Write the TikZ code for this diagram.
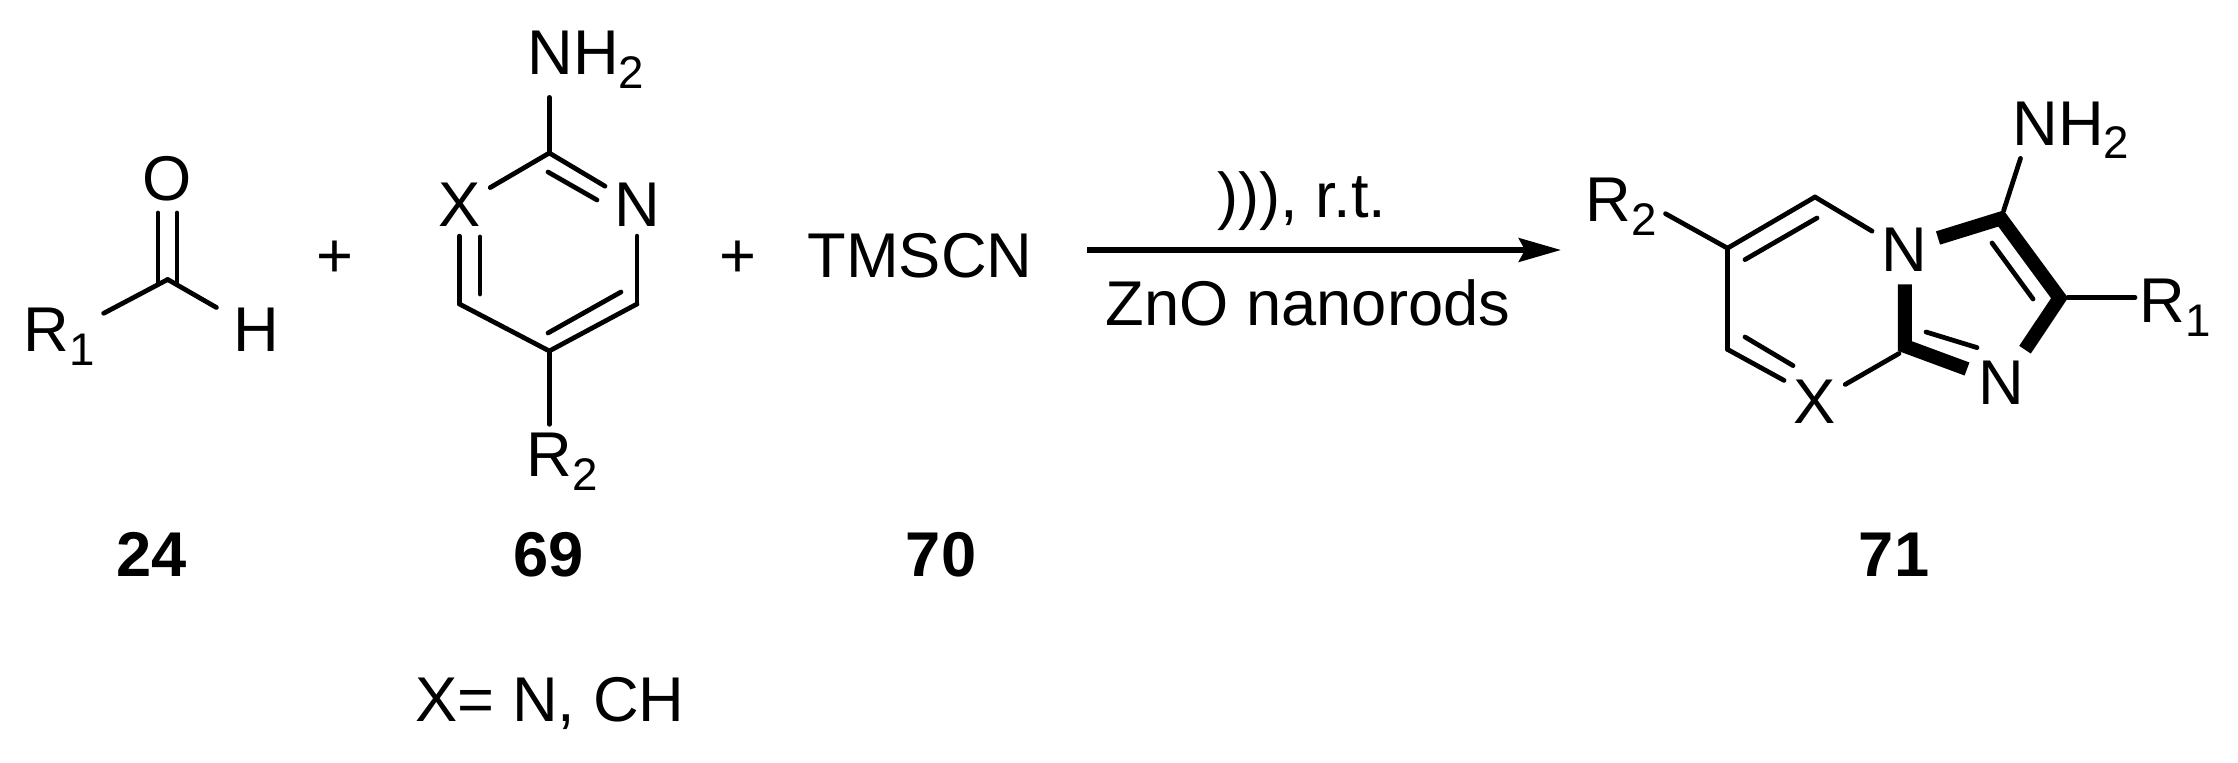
\documentclass[tikz,border=0pt]{standalone}
\usepackage{fontspec}
\setmainfont{Liberation Sans}
\usetikzlibrary{arrows.meta}
\newcommand{\pedice}[1]{\raisebox{-0.21em}{\fontsize{26}{26}\selectfont #1}}
\tikzset{
  atomo/.style={anchor=base,inner sep=5pt,font=\fontsize{36}{40}\selectfont},
  numero/.style={anchor=base,inner sep=0pt,font=\fontsize{36}{40}\selectfont\bfseries},
  legame/.style={line width=2.7pt,line cap=round,line join=round},
  grassetto/.style={line width=7.9pt,line join=miter},
  freccia/.style={line width=3.1pt,-{Stealth[length=24pt,width=13.5pt,inset=3.5pt]}}
}
\begin{document}
\begin{tikzpicture}[x=0.02cm,y=-0.02cm]
  \useasboundingbox (0,0) rectangle (2238,763);

  % Aldeide
  \node[atomo] (oAld) at (167,201) {O};
  \node[atomo] (hAld) at (256,352) {H};
  \node[atomo] (rUno) at (59,352) {R\pedice{1}};
  \coordinate (cAld) at (167.7,279.5);
  \coordinate (oSx) at (158,213);
  \coordinate (oDx) at (177,213);
  \coordinate (cSx) at (158,282);
  \coordinate (cDx) at (177,282);
  \draw[legame] (oSx) -- (cSx);
  \draw[legame] (oDx) -- (cDx);
  \draw[legame] (cAld) -- (rUno);
  \draw[legame,shorten >=5pt] (cAld) -- (hAld);
  \node[numero] (nVentiquattro) at (152,576) {24};

  % Piu
  \node[atomo] (piuUno) at (335,278) {+};
  \node[atomo] (piuDue) at (738,278) {+};

  % Amminopirimidina
  \node[atomo] (nhDue) at (586,75) {NH\pedice{2}};
  \node[atomo] (xPir) at (460,227) {X};
  \node[atomo] (nPir) at (637,227) {N};
  \node[atomo] (rDue) at (562,477) {R\pedice{2}};
  \coordinate (cDue) at (549.3,153);
  \coordinate (cQuattro) at (459.4,304);
  \coordinate (cCinque) at (549.3,351);
  \coordinate (cSei) at (637,304);
  \coordinate (aIn) at (548,172);
  \coordinate (bIn) at (597,200);
  \coordinate (cIn) at (480,237);
  \coordinate (dIn) at (480,294);
  \coordinate (eIn) at (548,333);
  \coordinate (fIn) at (621,292);
  \draw[legame] (cDue) -- (nhDue.south -| cDue);
  \draw[legame] (cDue) -- (xPir);
  \draw[legame] (cDue) -- (nPir);
  \draw[legame] (aIn) -- (bIn);
  \draw[legame] (xPir.south -| cQuattro) -- (cQuattro);
  \draw[legame] (cIn) -- (dIn);
  \draw[legame] (cQuattro) -- (cCinque);
  \draw[legame] (cCinque) -- (cSei);
  \draw[legame] (eIn) -- (fIn);
  \draw[legame] (nPir.south -| cSei) -- (cSei);
  \draw[legame] (cCinque) -- (rDue.north -| cCinque);
  \node[numero] (nSessantanove) at (549,576) {69};
  \node[atomo] (xNota) at (550,721) {X= N, CH};

  % Reagente e freccia
  \node[atomo] (tms) at (920,278) {TMSCN};
  \node[numero] (nSettanta) at (941,576) {70};
  \coordinate (frInizio) at (1087,250);
  \coordinate (frFine) at (1561,250);
  \draw[freccia] (frInizio) -- (frFine);
  \node[atomo] (sopra) at (1302,218) {))), r.t.};
  \node[atomo] (sotto) at (1308,326) {ZnO nanorods};

  % Imidazopirimidina
  \node[atomo] (rDueP) at (1621,222) {R\pedice{2}};
  \node[atomo] (nPonte) at (1904,272) {N};
  \node[atomo] (xProd) at (1815,423.6) {X};
  \node[atomo] (nImid) at (2001.6,404) {N};
  \node[atomo] (rUnoP) at (2175,323) {R\pedice{1}};
  \node[atomo] (nhDueP) at (2071,145.6) {NH\pedice{2}};
  \coordinate (pA) at (1727.5,248.2);
  \coordinate (pB) at (1815,197);
  \coordinate (pC) at (1727.5,349.4);
  \coordinate (pD) at (1899,353.5);
  \coordinate (pE) at (2003.5,211);
  \coordinate (pF) at (2068,297.6);
  \coordinate (xAlto) at (1784,380.4);
  \coordinate (rFine) at (1665.5,213.7);
  \coordinate (nhFine) at (2020.5,158.4);
  \coordinate (rUnoFine) at (2135,297.6);
  % legami interni
  \coordinate (gIn) at (1745,259.6);
  \coordinate (hIn) at (1817,218);
  \coordinate (iIn) at (1745,337);
  \coordinate (jIn) at (1793,365.6);
  \coordinate (kIn) at (1926,332);
  \coordinate (lIn) at (1977,347.6);
  \coordinate (mIn) at (1992,243);
  \coordinate (oIn) at (2033,299);
  % legami in grassetto
  \coordinate (gA) at (1938,238);
  \coordinate (gB) at (2001,218.5);
  \coordinate (gC) at (2059.5,298);
  \coordinate (gD) at (2025,349.7);
  \coordinate (gE) at (1904.8,284.5);
  \coordinate (gF) at (1904.8,346);
  \coordinate (gG) at (1967,369);
  \draw[grassetto] (gA) -- (gB) -- (gC) -- (gD);
  \draw[grassetto] (gE) -- (gF) -- (gG);
  \draw[legame] (pA) -- (rFine);
  \draw[legame] (pA) -- (pB);
  \draw[legame] (gIn) -- (hIn);
  \draw[legame] (pB) -- (nPonte);
  \draw[legame] (pA) -- (pC);
  \draw[legame] (pC) -- (xAlto);
  \draw[legame] (iIn) -- (jIn);
  \draw[legame] (pD) -- (xProd);
  \draw[legame] (kIn) -- (lIn);
  \draw[legame] (mIn) -- (oIn);
  \draw[legame] (pF) -- (rUnoFine);
  \draw[legame] (pE) -- (nhFine);
  \node[numero] (nSettantuno) at (1894,576) {71};
\end{tikzpicture}
\end{document}
